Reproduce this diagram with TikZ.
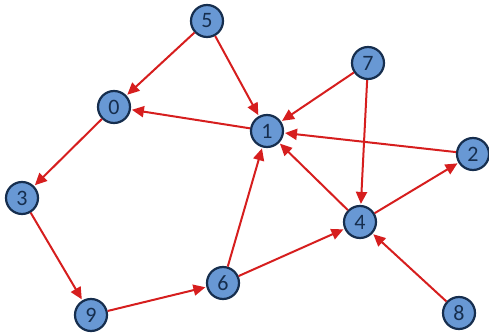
\documentclass[tikz,border=0pt]{standalone}
\usepackage{fontspec}
\setmainfont{Carlito}
\usetikzlibrary{arrows.meta}
\definecolor{nodeblue}{RGB}{104,152,212}
\definecolor{nodeline}{RGB}{22,46,78}
\definecolor{edgered}{RGB}{214,30,30}

\begin{document}
\begin{tikzpicture}[
    x=1pt, y=-1pt, >={Triangle[length=12pt, width=11pt]},
    vert/.style ={circle, draw=nodeline, fill=nodeblue, line width=2.2pt, minimum size=32pt, inner sep=0pt,
                  font=\fontsize{22}{22}\selectfont, text=nodeline},
    link/.style ={->, draw=edgered, line width=2pt, shorten >=1pt, shorten <=0pt}
]
\useasboundingbox (0,0) rectangle (489,336);

% vertices
\node[vert] (v5) at (207, 21)  {5};
\node[vert] (v0) at (114,107)  {0};
\node[vert] (v1) at (267,131)  {1};
\node[vert] (v7) at (368, 63)  {7};
\node[vert] (v2) at (473,154)  {2};
\node[vert] (v3) at ( 22,198)  {3};
\node[vert] (v4) at (360,222)  {4};
\node[vert] (v6) at (223,283)  {6};
\node[vert] (v9) at ( 91,315)  {9};
\node[vert] (v8) at (459,313)  {8};

% edges
\draw[link] (v5) -- (v0);
\draw[link] (v5) -- (v1);
\draw[link] (v1) -- (v0);
\draw[link] (v0) -- (v3);
\draw[link] (v3) -- (v9);
\draw[link] (v9) -- (v6);
\draw[link] (v6) -- (v1);
\draw[link] (v6) -- (v4);
\draw[link] (v7) -- (v1);
\draw[link] (v7) -- (v4);
\draw[link] (v2) -- (v1);
\draw[link] (v4) -- (v1);
\draw[link] (v4) -- (v2);
\draw[link] (v8) -- (v4);
\end{tikzpicture}
\end{document}
